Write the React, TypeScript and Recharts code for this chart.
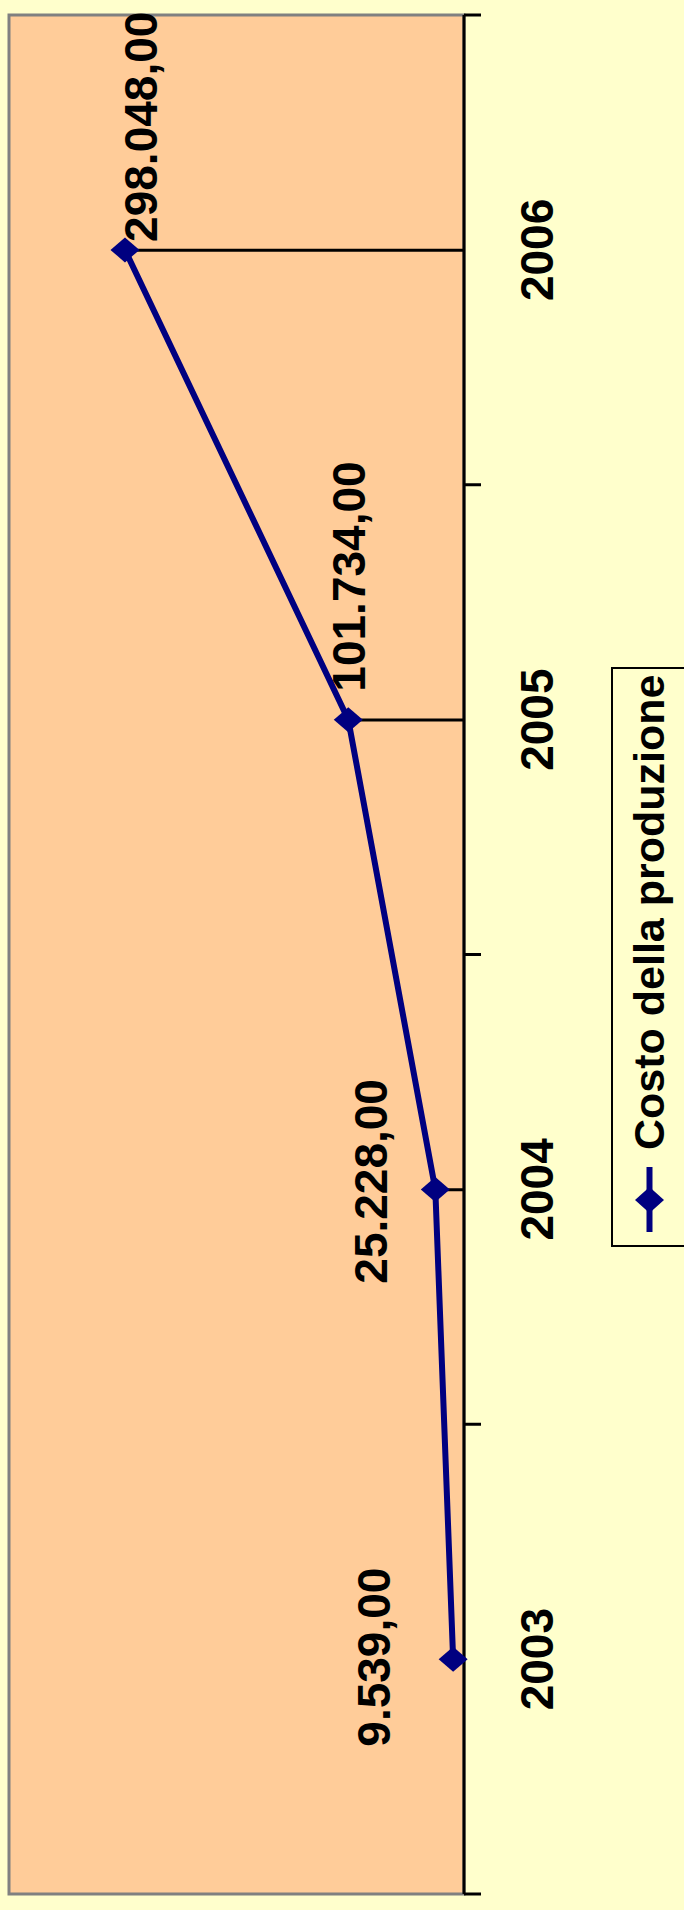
import { Bar, ComposedChart, LabelList, Legend, Line, ReferenceArea, XAxis, YAxis } from "recharts";

const years = ["2003", "2004", "2005", "2006"];
const costs = [9539, 25228, 101734, 298048];
const valueDomain: [number, number] = [0, 400000];
const seriesName = "Costo della produzione";

const data = years.map((year, i) => ({ year, cost: costs[i] }));

// the chart is drawn landscape and then turned a quarter to fit the tall page
const CHART_W = 1910;
const CHART_H = 684;
const MARGIN = { top: 9, right: 15, bottom: 0, left: 16 };
const AXIS_H = 220;
const BAND_HALF = (CHART_W - MARGIN.left - MARGIN.right) / years.length / 2;

const NAVY = "#000080";
const FONT = '"Liberation Sans", Arial, sans-serif';

// where each value label sits relative to its point
const labelPlacement: Record<string, { anchor: "start" | "middle" | "end"; dx: number; dy: number }> = {
  "2003": { anchor: "middle", dx: 2, dy: -63 },
  "2004": { anchor: "middle", dx: 8, dy: -48 },
  "2005": { anchor: "start", dx: 28, dy: 17 },
  "2006": { anchor: "start", dx: 8, dy: 32 },
};

function formatIt(value: number) {
  const [int, dec] = value.toFixed(2).split(".");
  return `${int.replace(/\B(?=(\d{3})+(?!\d))/g, ".")},${dec}`;
}

function YearTick(props: any) {
  const { x, y, payload } = props;
  const last = payload.value === years[years.length - 1];
  return (
    <g>
      <line x1={x - BAND_HALF} x2={x - BAND_HALF} y1={y} y2={y + 17} stroke="#000" strokeWidth={3} />
      {last ? <line x1={x + BAND_HALF} x2={x + BAND_HALF} y1={y} y2={y + 17} stroke="#000" strokeWidth={3} /> : null}
      <text x={x} y={y + 89} textAnchor="middle" fontSize={46} fontWeight="bold" fontFamily={FONT} fill="#000">
        {payload.value}
      </text>
    </g>
  );
}

function Diamond(props: any) {
  const { cx, cy, index } = props;
  if (cx == null || cy == null) return null;
  return (
    <polygon
      key={`d-${index}`}
      points={`${cx},${cy - 14.5} ${cx + 12.5},${cy} ${cx},${cy + 14.5} ${cx - 12.5},${cy}`}
      fill={NAVY}
    />
  );
}

function CostLabel(props: any) {
  const { x, y, value, index } = props;
  const p = labelPlacement[years[index]];
  return (
    <text
      x={x + p.dx}
      y={y + p.dy}
      textAnchor={p.anchor}
      fontSize={46}
      fontWeight="bold"
      fontFamily={FONT}
      fill="#000"
    >
      {formatIt(Number(value))}
    </text>
  );
}

function LegendBox() {
  return (
    <svg width={580} height={100} style={{ display: "block" }}>
      <rect x={1} y={1} width={578} height={98} fill="none" stroke="#000" strokeWidth={2} />
      <line x1={15} x2={80} y1={38.5} y2={38.5} stroke={NAVY} strokeWidth={6} />
      <polygon points="47,24 60,38.5 47,53 34,38.5" fill={NAVY} />
      <text x={97} y={53} fontSize={43} fontWeight="bold" fontFamily={FONT} fill="#000">
        {seriesName}
      </text>
    </svg>
  );
}

export default function App() {
  return (
    <div
      style={{
        position: "absolute",
        left: 0,
        top: 0,
        width: CHART_H,
        height: CHART_W,
        overflow: "hidden",
        background: "#FFFFCC",
      }}
    >
      <div
        style={{
          position: "absolute",
          left: 0,
          top: 0,
          width: CHART_W,
          height: CHART_H,
          transformOrigin: "0 0",
          transform: `translate(0px, ${CHART_W}px) rotate(-90deg)`,
        }}
      >
        <ComposedChart width={CHART_W} height={CHART_H} data={data} margin={MARGIN}>
          <ReferenceArea
            y1={valueDomain[0]}
            y2={valueDomain[1]}
            fill="#FFCC99"
            fillOpacity={1}
            stroke="#808080"
            strokeWidth={3}
            ifOverflow="visible"
          />
          <XAxis
            dataKey="year"
            type="category"
            height={AXIS_H}
            axisLine={{ stroke: "#000", strokeWidth: 3 }}
            tickLine={false}
            tickSize={0}
            tickMargin={0}
            tick={<YearTick />}
            interval={0}
          />
          <YAxis hide domain={valueDomain} type="number" />
          <Legend
            layout="horizontal"
            verticalAlign="middle"
            align="center"
            wrapperStyle={{ left: 663, top: 611, width: 580, height: 100 }}
            content={() => <LegendBox />}
          />
          <Bar dataKey="cost" barSize={3} fill="#000" isAnimationActive={false} />
          <Line
            dataKey="cost"
            name={seriesName}
            stroke={NAVY}
            strokeWidth={6}
            dot={Diamond}
            activeDot={false}
            isAnimationActive={false}
          >
            <LabelList dataKey="cost" content={CostLabel} />
          </Line>
        </ComposedChart>
      </div>
    </div>
  );
}
